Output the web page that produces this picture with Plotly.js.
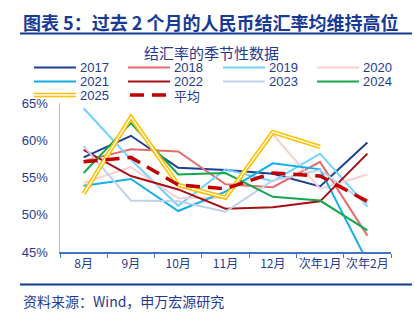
<!DOCTYPE html>
<html>
<head>
<meta charset="utf-8">
<script src="https://cdn.plot.ly/plotly-3.0.1.min.js"></script>
<style>
  html, body { margin: 0; padding: 0; background: #fff; }
  #chart { width: 415px; height: 328px; }
</style>
</head>
<body>
<div id="chart"></div>
<script>
// ---------- data ----------
const categories = ['8月', '9月', '10月', '11月', '12月', '次年1月', '次年2月'];
const seriesNames = ['2017', '2018', '2019', '2020', '2021', '2022', '2023', '2024', '2025', '平均'];
const s2017 = [57.7, 60.6, 56.3, 56.0, 55.5, 53.8, 59.7];
const s2018 = [57.2, 58.8, 58.5, 54.1, 53.7, 57.1, 47.2];
const s2019 = [64.3, 57.4, 51.2, 56.1, 54.5, 58.2, 51.1];
const s2020 = [54.3, 56.4, 52.2, 52.3, 60.8, 53.5, 55.4];
const s2021 = [53.9, 54.8, 50.5, 53.1, 56.9, 56.1, 43.7];
const s2022 = [58.7, 55.2, 53.4, 50.8, 51.0, 51.8, 58.2];
const s2023 = [59.2, 51.9, 51.8, 50.4, 54.6, 56.0, 51.4];
const s2024 = [55.6, 62.3, 55.4, 55.6, 52.4, 51.9, 47.9];
const s2025 = [52.8, 63.1, 54.0, 52.3, 61.1, 59.1, null];
const avg   = [57.1, 57.7, 54.0, 53.5, 55.6, 55.2, 51.8];
const yTicks = [45, 50, 55, 60, 65];

// ---------- styles ----------
const seriesData = [s2017, s2018, s2019, s2020, s2021, s2022, s2023, s2024, s2025, avg];
const colors = ['#1B3F94', '#E46C6C', '#6DD2FF', '#F9D0D0', '#12AEEA', '#A50F15', '#BFD0E9', '#13A64C', '#FFC000', '#C00000'];
const widths = [2, 2, 2, 2, 2, 2, 2, 2, 4.5, 3.5];
const textBlue = '#1F3A93';
const fontLatin = 'Liberation Sans, Arial, Noto Sans CJK SC, sans-serif';
const fontCJK = 'Noto Sans CJK SC, Liberation Sans, sans-serif';

const W = 415, H = 328;
const M = {l: 60, r: 24, t: 103, b: 76};
const PW = W - M.l - M.r, PH = H - M.t - M.b;
const px = x => (x - M.l) / PW;
const py = y => (H - M.b - y) / PH;

const traces = [];
seriesData.forEach((d, i) => {
  const isAvg = i === 9;
  traces.push({
    type: 'scatter', mode: 'lines', x: categories, y: d, name: seriesNames[i],
    line: {color: colors[i], width: widths[i], dash: isAvg ? '14px,8px' : 'solid'},
    showlegend: false, hoverinfo: 'skip', connectgaps: false
  });
  if (i === 8) {
    // white core of the double line for 2025
    traces.push({
      type: 'scatter', mode: 'lines', x: categories, y: d, name: seriesNames[i] + ' core',
      line: {color: '#FFFFFF', width: 1.3}, showlegend: false, hoverinfo: 'skip'
    });
  }
});

// ---------- manual legend ----------
const shapes = [];
const annotations = [];
const colX = [34, 128, 223, 317];
const rowY = [67.5, 81.5, 95];
seriesNames.forEach((n, i) => {
  const c = i % 4, r = Math.floor(i / 4);
  const x0 = colX[c], x1 = colX[c] + 42, y = rowY[r];
  const isAvg = i === 9;
  shapes.push({
    type: 'line', xref: 'paper', yref: 'paper',
    x0: px(isAvg ? x0 + 2 : x0), x1: px(x1), y0: py(y), y1: py(y),
    line: {color: colors[i], width: widths[i], dash: isAvg ? '14px,8px' : 'solid'}
  });
  if (i === 8) {
    shapes.push({
      type: 'line', xref: 'paper', yref: 'paper',
      x0: px(x0), x1: px(x1), y0: py(y), y1: py(y),
      line: {color: '#FFFFFF', width: 1.3}
    });
  }
  annotations.push({
    xref: 'paper', yref: 'paper', x: px(x1 + 3), y: py(y), xanchor: 'left', yanchor: 'middle',
    text: n, showarrow: false, borderpad: 0,
    font: {family: isAvg ? fontCJK : fontLatin, size: 13, color: textBlue}
  });
});

// ---------- titles / frame ----------
annotations.push({
  xref: 'paper', yref: 'paper', x: px(21), y: py(22), xanchor: 'left', yanchor: 'middle',
  text: '<b>图表 5：过去 2 个月的人民币结汇率均维持高位</b>', showarrow: false,
  font: {family: fontCJK, size: 18, color: '#173A96'}
});
annotations.push({
  xref: 'paper', yref: 'paper', x: px(211), y: py(52.5), xanchor: 'center', yanchor: 'middle',
  text: '结汇率的季节性数据', showarrow: false, borderpad: 0,
  font: {family: fontCJK, size: 15, color: textBlue}
});
annotations.push({
  xref: 'paper', yref: 'paper', x: px(21), y: py(301), xanchor: 'left', yanchor: 'middle',
  text: '资料来源：Wind，申万宏源研究', showarrow: false,
  font: {family: fontCJK, size: 14, color: textBlue}
});
shapes.push({type: 'line', xref: 'paper', yref: 'paper', x0: px(20), x1: px(412), y0: py(33.5), y1: py(33.5),
  line: {color: '#0E3B96', width: 2.2}});
shapes.push({type: 'line', xref: 'paper', yref: 'paper', x0: px(20), x1: px(412), y0: py(284.5), y1: py(284.5),
  line: {color: '#0E3B96', width: 2.2}});

const layout = {
  width: W, height: H,
  margin: M,
  paper_bgcolor: '#FFFFFF', plot_bgcolor: '#FFFFFF',
  showlegend: false,
  xaxis: {
    type: 'category', categoryorder: 'array', categoryarray: categories,
    range: [-0.5, categories.length - 0.5],
    showgrid: false, zeroline: false,
    showline: true, linecolor: '#4472C4', linewidth: 1.5,
    ticks: 'outside', tickson: 'boundaries', ticklen: 4, tickcolor: '#4472C4', tickwidth: 1,
    tickangle: 0, automargin: false,
    tickfont: {family: fontCJK, size: 12, color: textBlue},
    fixedrange: true
  },
  yaxis: {
    range: [45, 65], tickvals: yTicks, ticktext: yTicks.map(v => v + '%'),
    showgrid: false, zeroline: false,
    showline: true, linecolor: '#A9BEE0', linewidth: 1.5,
    ticks: '', ticklabelstandoff: 8,
    tickfont: {family: fontLatin, size: 13, color: textBlue},
    fixedrange: true
  },
  shapes: shapes,
  annotations: annotations
};

Plotly.newPlot('chart', traces, layout, {staticPlot: true, displayModeBar: false});
</script>
</body>
</html>
